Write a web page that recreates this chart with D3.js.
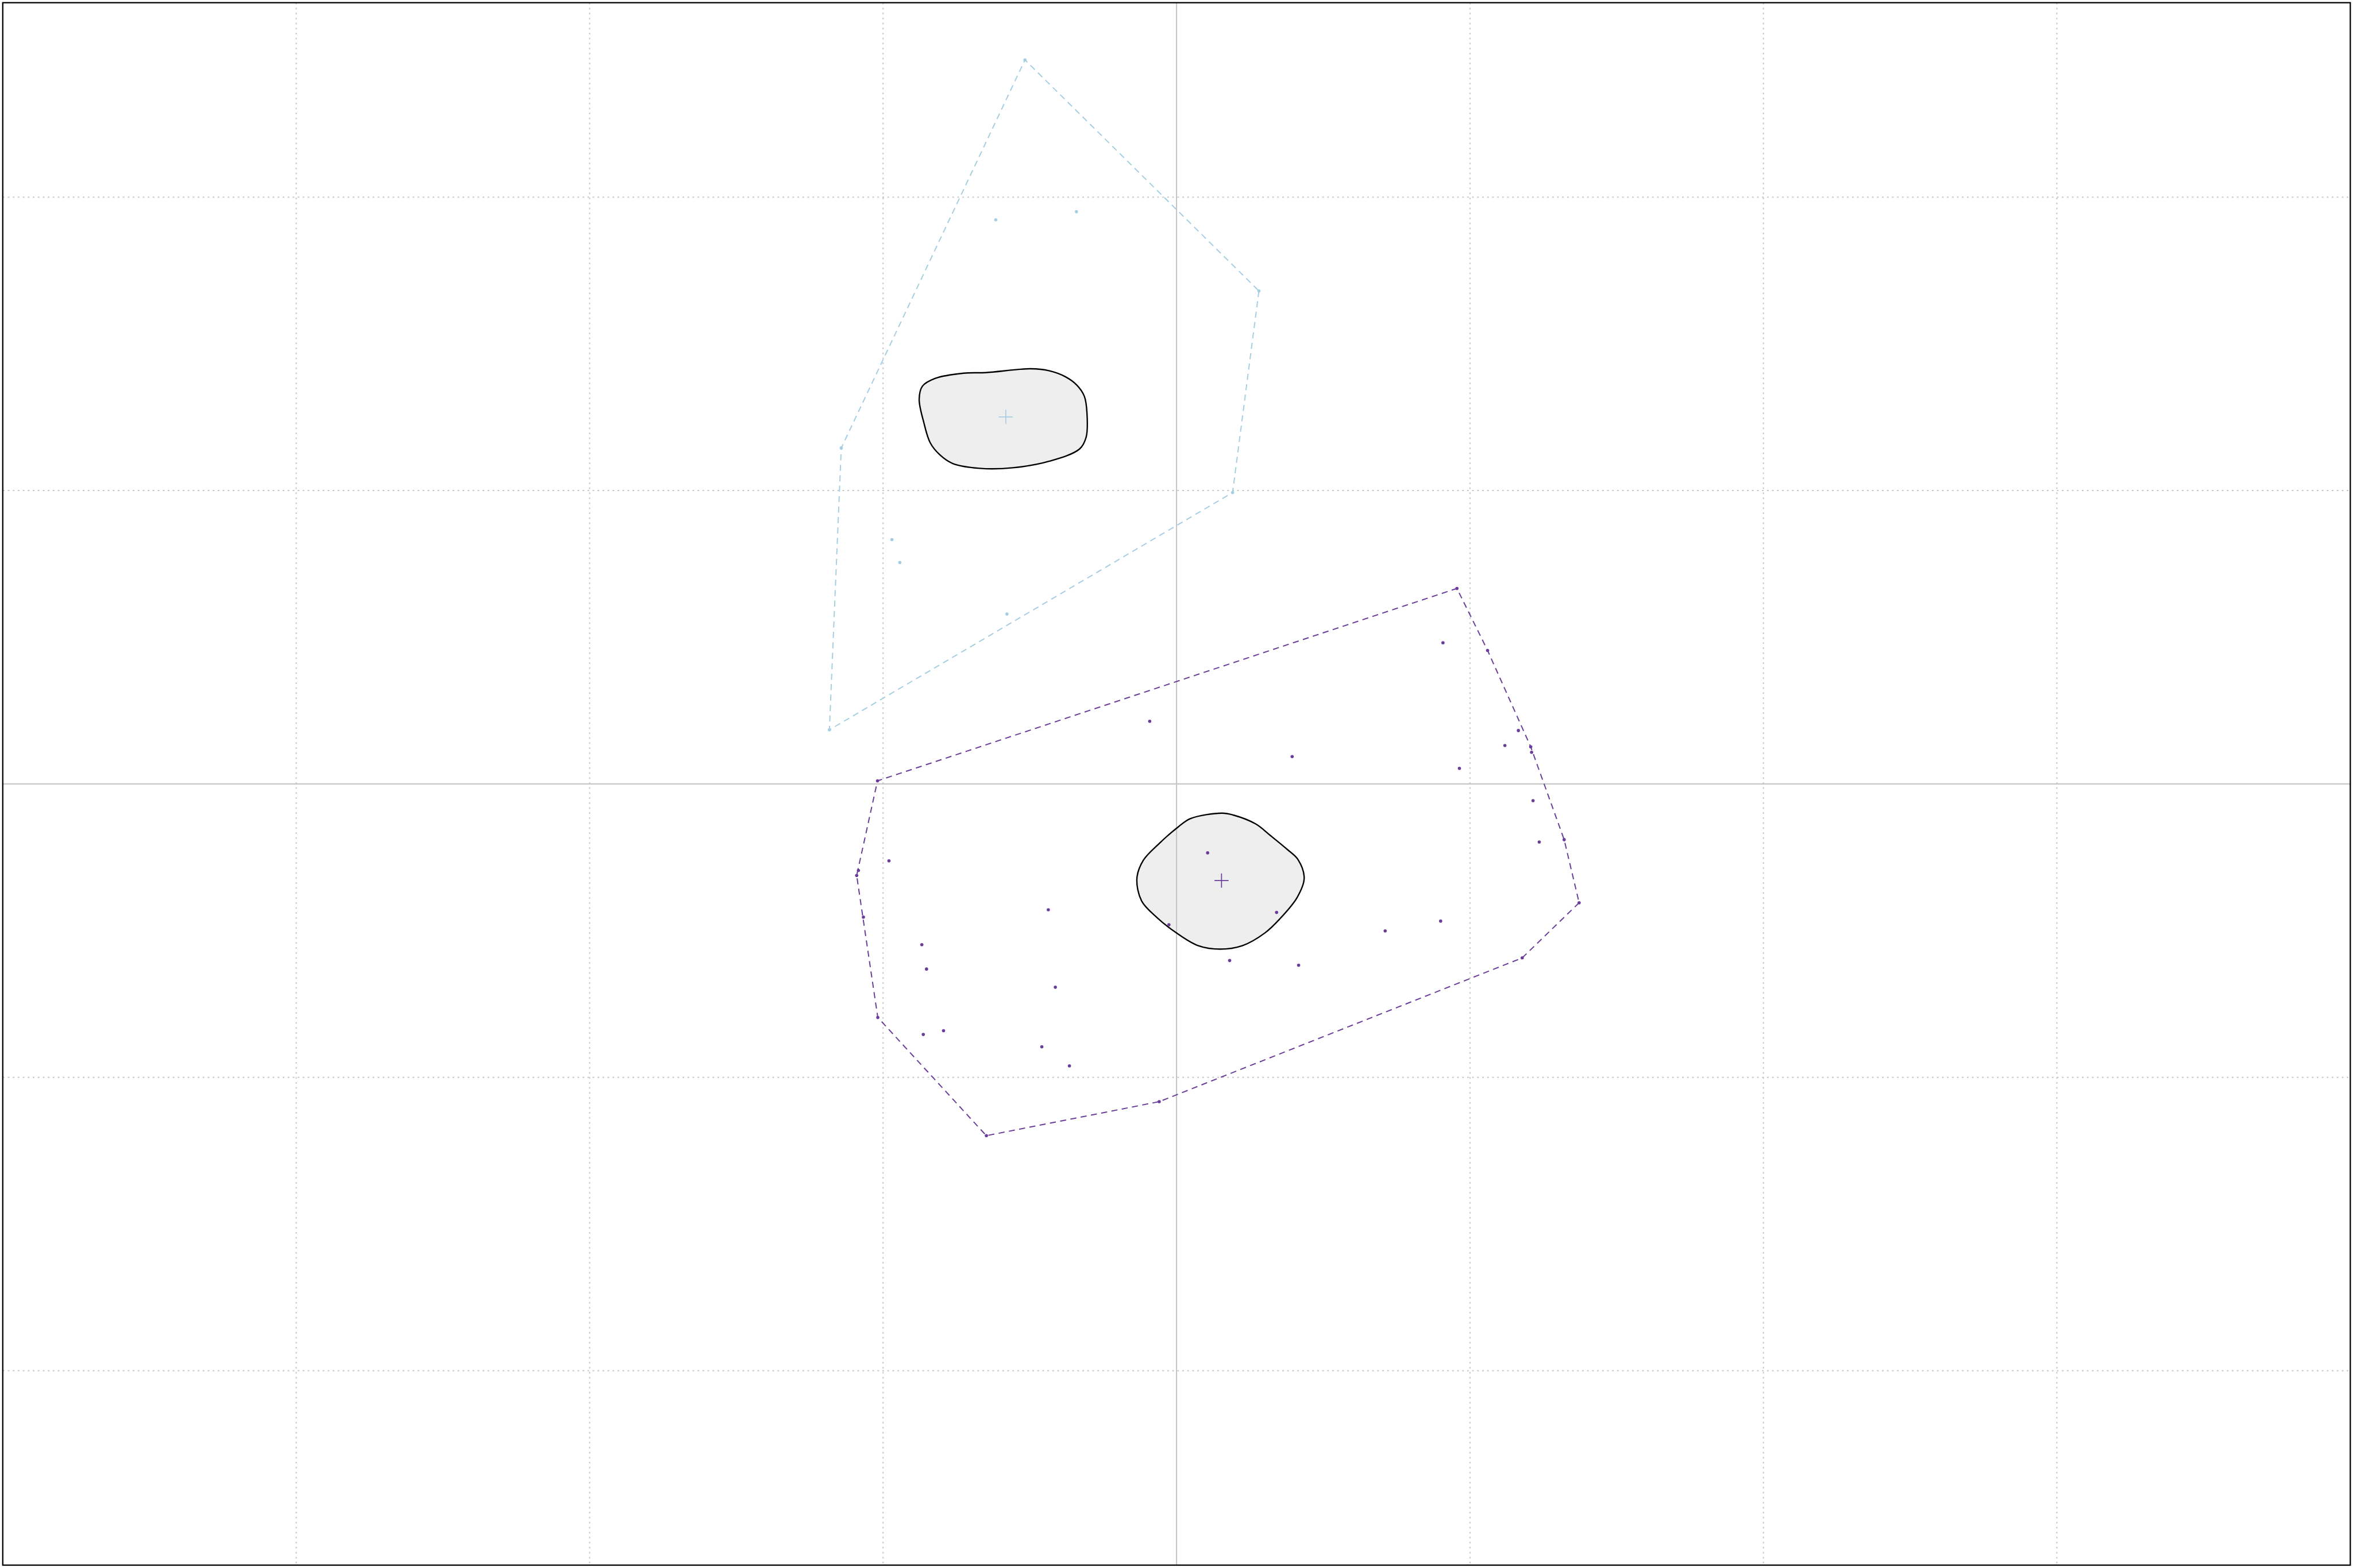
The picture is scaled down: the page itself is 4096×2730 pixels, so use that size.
<!DOCTYPE html>
<html><head><meta charset="utf-8">
<script src="https://cdn.jsdelivr.net/npm/d3@7"></script>
<style>html,body{margin:0;padding:0;background:#fff;overflow:hidden}</style>
</head><body>
<script>
// ---- data ----
const groupNames = ["group1", "group2"];
const groupColors = ["#a6cee3", "#6a3d9a"];
const xTicks = [-3, -2, -1, 0, 1, 2, 3];
const yTicks = [-2, -1, 0, 1, 2];

const group1X = [-0.5165, 0.2808, -0.616, -0.341, -1.1425, 0.191, -0.970, -0.943, -0.578, -1.183];
const group1Y = [2.4677, 1.6803, 1.9226, 1.9503, 1.1451, 0.993, 0.8326, 0.7546, 0.579, 0.1843];

const group2X = [0.9556, 1.060, 1.207, 1.210, 1.321, 1.372, 1.178, -0.059, -0.648, -1.018, -1.067, -1.090, -1.084, -1.019,
  -0.980, -0.868, -0.852, -0.437, -0.413, -0.863, -0.794, -0.459, -0.365, 0.106, -0.026, 0.341, 0.181, 0.416,
  0.908, 1.165, 1.119, 0.964, 0.394, -0.0914, 1.215, 1.236, 0.900, 0.711];
const group2Y = [0.6664, 0.455, 0.1265, 0.108, -0.190, -0.405, -0.593, -1.083, -1.199, -0.796, -0.454, -0.312, -0.295, 0.0105,
  -0.262, -0.548, -0.631, -0.429, -0.693, -0.854, -0.841, -0.896, -0.961, -0.235, -0.480, -0.438, -0.602, -0.618,
  0.481, 0.182, 0.131, 0.053, 0.093, 0.2136, -0.057, -0.198, -0.4675, -0.501];

const region1X = [-0.498, -0.650, -0.7256, -0.823, -0.866, -0.877, -0.861, -0.839, -0.807, -0.7635, -0.671, -0.558, -0.433, -0.330, -0.308, -0.305, -0.314, -0.341, -0.379, -0.433];
const region1Y = [1.415, 1.402, 1.400, 1.382, 1.3556, 1.311, 1.231, 1.162, 1.122, 1.0924, 1.0756, 1.0776, 1.100, 1.142, 1.182, 1.261, 1.321, 1.3605, 1.388, 1.408];

const region2X = [0.155, 0.048, 0.004, -0.059, -0.113, -0.135, -0.119, -0.066, -0.003, 0.073, 0.149, 0.225, 0.301, 0.351, 0.411, 0.435, 0.414, 0.377, 0.320, 0.269, 0.193];
const region2Y = [-0.0996, -0.118, -0.148, -0.203, -0.260, -0.322, -0.399, -0.456, -0.506, -0.551, -0.563, -0.551, -0.508, -0.461, -0.387, -0.322, -0.258, -0.223, -0.176, -0.136, -0.106];

// ---- layout ----
const W = 4096, H = 2730;
const L = 4.8, R = 4091.3, T = 4.7, B = 2725;
const xLim = 4;
const yLim = xLim * (B - T) / (R - L);

const x = d3.scaleLinear().domain([-xLim, xLim]).range([L, R]);
const y = d3.scaleLinear().domain([-yLim, yLim]).range([B, T]);

const svg = d3.select("body").append("svg").attr("width", W).attr("height", H);

// grid
const grid = svg.append("g");
grid.selectAll(".vg").data(xTicks.filter(d => d !== 0)).join("line")
  .attr("x1", d => x(d)).attr("x2", d => x(d)).attr("y1", T).attr("y2", B)
  .attr("stroke", "#c8c8c8").attr("stroke-width", 2).attr("stroke-dasharray", "3,5.7");
grid.selectAll(".hg").data(yTicks.filter(d => d !== 0)).join("line")
  .attr("y1", d => y(d)).attr("y2", d => y(d)).attr("x1", L).attr("x2", R)
  .attr("stroke", "#c8c8c8").attr("stroke-width", 2).attr("stroke-dasharray", "3,5.7");
// zero lines
grid.append("line").attr("x1", x(0)).attr("x2", x(0)).attr("y1", T).attr("y2", B)
  .attr("stroke", "#c6c6c6").attr("stroke-width", 2.1);
grid.append("line").attr("y1", y(0)).attr("y2", y(0)).attr("x1", L).attr("x2", R)
  .attr("stroke", "#c6c6c6").attr("stroke-width", 2.1);

const groups = [
  {xs: group1X, ys: group1Y, rx: region1X, ry: region1Y, color: groupColors[0]},
  {xs: group2X, ys: group2Y, rx: region2X, ry: region2Y, color: groupColors[1]}
];

const blobLine = d3.line().x(d => x(d[0])).y(d => y(d[1])).curve(d3.curveCatmullRomClosed.alpha(0.5));

groups.forEach(g => {
  const pts = g.xs.map((v, i) => [v, g.ys[i]]);
  const hull = d3.polygonHull(pts);
  svg.append("path")
    .attr("d", "M" + hull.map(p => [x(p[0]), y(p[1])].join(",")).join("L") + "Z")
    .attr("fill", "none").attr("stroke", g.color).attr("stroke-width", 2)
    .attr("stroke-dasharray", "10.6,7.6");
});

groups.forEach(g => {
  const reg = g.rx.map((v, i) => [v, g.ry[i]]);
  svg.append("path").attr("d", blobLine(reg))
    .attr("fill", "#c8c8c8").attr("fill-opacity", 0.3)
    .attr("stroke", "#000").attr("stroke-width", 2.4);
});

groups.forEach(g => {
  const pts = g.xs.map((v, i) => [v, g.ys[i]]);
  svg.append("g").selectAll("circle").data(pts).join("circle")
    .attr("cx", d => x(d[0])).attr("cy", d => y(d[1])).attr("r", 2.8)
    .attr("fill", g.color);
  const cx = x(d3.mean(g.xs)), cy = y(d3.mean(g.ys));
  const s = 12.3;
  svg.append("path").attr("d", `M${cx - s},${cy}H${cx + s}M${cx},${cy - s}V${cy + s}`)
    .attr("stroke", g.color).attr("stroke-width", 1.7).attr("fill", "none");
});

// frame
svg.append("rect").attr("x", L).attr("y", T).attr("width", R - L).attr("height", B - T)
  .attr("fill", "none").attr("stroke", "#000").attr("stroke-width", 2.3);
</script>
</body></html>
